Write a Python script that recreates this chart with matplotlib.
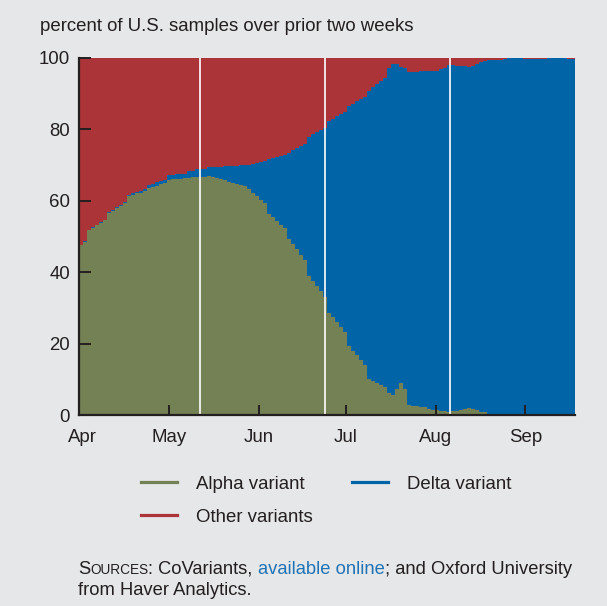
import numpy as np
import pandas as pd
import matplotlib
matplotlib.use("Agg")
import matplotlib.pyplot as plt
import matplotlib.dates as mdates
from matplotlib.lines import Line2D

# Share of U.S. samples (percent), one value per step of the chart
alpha = [
    47.6, 48.4, 51.8, 52.5, 53.2, 53.9, 54.6, 56.6, 57.2, 58.0,
    58.6, 59.4, 61.4, 61.7, 62.2, 62.2, 62.8, 63.6, 63.9, 64.2,
    64.7, 64.9, 65.8, 66.1, 66.1, 66.1, 66.3, 66.4, 66.6, 66.6,
    66.6, 66.6, 66.9, 66.6, 66.3, 66.1, 65.8, 65.2, 64.9, 64.7,
    64.4, 64.1, 63.3, 62.2, 61.3, 60.2, 59.4, 56.3, 55.4, 54.3,
    53.2, 52.4, 49.3, 47.9, 46.5, 44.8, 43.4, 38.9, 37.5, 36.1,
    34.7, 33.1, 28.6, 27.5, 26.1, 24.7, 23.3, 19.4, 18.0, 16.8,
    15.4, 14.0, 10.1, 9.5, 9.0, 8.4, 7.9, 6.2, 5.7, 7.3,
    9.0, 7.3, 2.9, 2.6, 2.6, 2.3, 2.3, 1.7, 1.5, 1.5,
    1.2, 1.2, 0.9, 1.2, 1.2, 1.4, 1.7, 2.0, 1.7, 1.4,
    0.9, 0.9, 0.3, 0.3, 0.3, 0.3, 0.3, 0.3, 0.0, 0.3,
    0.3, 0.3, 0.3, 0.3, 0.3, 0.3, 0.3, 0.3, 0.0, 0.0,
    0.0, 0.3, 0.3, 0.3,
]
delta = [
    0.0, 0.3, 0.1, 0.1, 0.1, 0.2, 0.1, 0.3, 0.3, 0.3,
    0.3, 0.3, 0.3, 0.4, 0.3, 0.5, 0.5, 0.8, 0.8, 1.0,
    0.7, 0.9, 1.4, 1.1, 1.4, 1.4, 1.2, 1.8, 1.6, 2.2,
    2.4, 2.2, 2.5, 2.8, 3.1, 3.3, 3.9, 4.5, 4.8, 5.0,
    5.6, 5.9, 6.7, 8.2, 9.3, 10.7, 11.8, 15.5, 16.6, 18.0,
    19.4, 20.5, 24.1, 26.4, 28.3, 30.6, 32.5, 39.0, 41.2, 43.2,
    45.2, 47.2, 53.8, 55.4, 57.6, 59.6, 61.5, 67.1, 69.0, 71.2,
    73.1, 75.1, 80.7, 82.4, 83.6, 85.2, 86.4, 90.9, 92.5, 90.8,
    88.5, 89.8, 93.1, 93.4, 93.4, 93.9, 94.1, 94.7, 94.9, 94.9,
    95.7, 95.9, 97.1, 96.8, 96.6, 96.4, 96.1, 95.3, 96.1, 96.8,
    97.8, 98.2, 99.1, 99.1, 99.1, 99.1, 99.2, 99.5, 99.8, 99.5,
    99.5, 99.2, 99.2, 99.2, 99.2, 99.2, 99.2, 99.5, 99.8, 99.8,
    99.8, 99.5, 99.2, 99.2,
]
series_names = ["Alpha variant", "Delta variant", "Other variants"]
period_start = "2021-03-30 19:00"
period_end = "2021-09-18 03:00"
white_lines = ["2021-05-11 12:00", "2021-06-23 18:00", "2021-08-06 00:00"]
month_ticks = ["2021-04-01", "2021-05-01", "2021-06-01",
               "2021-07-01", "2021-08-01", "2021-09-01"]

BG = "#e6e7e8"
GREEN = "#748155"
BLUE = "#0064a6"
RED = "#ab3439"
INK = "#231f20"
LINK = "#1f73b7"
FS = 13.4
FS_NOTE = 13.2

W, H = 607, 606


def draw_chart(fig):
    ax = fig.add_axes([79 / W, 1 - 415.2 / H, 496 / W, 357.5 / H])
    ax.set_facecolor(BG)

    a = np.array(alpha)
    ad = a + np.array(delta)
    edges = mdates.date2num(pd.date_range(period_start, period_end, periods=len(a) + 1))

    # stacked step areas: alpha at the bottom, delta on it, other fills to 100
    ax.stairs(a, edges, baseline=0, fill=True, color=GREEN, lw=0)
    ax.stairs(ad, edges, baseline=a, fill=True, color=BLUE, lw=0)
    ax.stairs(np.full(len(a), 100.0), edges, baseline=ad, fill=True, color=RED, lw=0)

    for d in white_lines:
        ax.axvline(mdates.date2num(pd.Timestamp(d)), color="white", lw=1.2)

    ax.set_xlim(edges[0], edges[-1])
    ax.set_ylim(0, 100)

    for side in ["top", "right"]:
        ax.spines[side].set_visible(False)
    for side in ["left", "bottom"]:
        ax.spines[side].set_color(INK)
        ax.spines[side].set_linewidth(1.6)
        ax.spines[side].set_zorder(5)

    ax.set_yticks([0, 20, 40, 60, 80, 100])
    ax.set_xticks(mdates.date2num(pd.to_datetime(month_ticks)))
    ax.xaxis.set_major_formatter(mdates.DateFormatter("%b"))
    ax.tick_params(axis="y", direction="in", length=8.5, width=1.4, color=INK,
                   labelsize=FS, labelcolor=INK, pad=6.5)
    ax.tick_params(axis="x", direction="in", length=7.5, width=1.4, color=INK,
                   labelsize=FS, labelcolor=INK, pad=10)
    ax.xaxis.get_major_ticks()[0].tick1line.set_visible(False)
    for t in ax.get_xticklines() + ax.get_yticklines():
        t.set_zorder(6)
    return ax


def draw_texts(fig):
    fig.text(40 / W, 1 - 31 / H, "percent of U.S. samples over prior two weeks",
             fontsize=FS, color=INK, va="baseline")

    handles = [Line2D([], [], color=GREEN, lw=2.3),
               Line2D([], [], color=RED, lw=2.3),
               Line2D([], [], color=BLUE, lw=2.3)]
    labels = [series_names[0], series_names[2], series_names[1]]
    fig.legend(handles, labels, ncol=2, loc="upper left", frameon=False,
               bbox_to_anchor=(141 / W, 1 - 475.5 / H), borderpad=0, borderaxespad=0,
               fontsize=FS, labelcolor=INK, handlelength=1.95, handletextpad=1.0,
               columnspacing=2.1, labelspacing=0.86)

    # source note with small caps "Sources" and a blue link phrase
    fig.canvas.draw()
    renderer = fig.canvas.get_renderer()
    pieces = [("S", FS_NOTE, INK), ("OURCES", 9.8, INK), (": CoVariants, ", FS_NOTE, INK),
              ("available online", FS_NOTE, LINK), ("; and Oxford University", FS_NOTE, INK)]
    x = 78.0
    y = 1 - 573.5 / H
    for s, size, color in pieces:
        t = fig.text(x / W, y, s, fontsize=size, color=color, va="baseline")
        x = t.get_window_extent(renderer).x1
    fig.text(78 / W, 1 - 595 / H, "from Haver Analytics.", fontsize=FS_NOTE,
             color=INK, va="baseline")


def main():
    plt.rcParams["font.family"] = ["Liberation Sans", "DejaVu Sans"]
    fig = plt.figure(figsize=(W / 100, H / 100), dpi=100, facecolor=BG)
    draw_chart(fig)
    draw_texts(fig)
    fig.savefig("out.png", dpi=100, facecolor=BG)


if __name__ == "__main__":
    main()
